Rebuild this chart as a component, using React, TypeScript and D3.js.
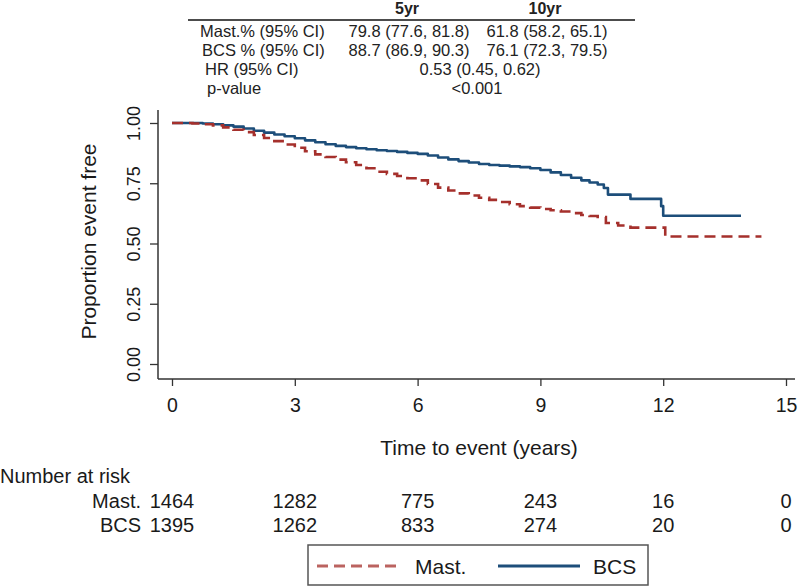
import React, { useEffect, useRef } from 'react';
import * as d3 from 'd3';

// Kaplan-Meier estimates (time in years, proportion event free)
const mastTimes = [0, 0.25, 0.5, 0.75, 1, 1.25, 1.5, 1.75, 2, 2.25, 2.5, 2.75, 3, 3.25, 3.5, 3.75, 4, 4.25, 4.5, 4.75, 5, 5.25, 5.5, 5.75, 6, 6.25, 6.5, 6.75, 7, 7.25, 7.5, 7.75, 8, 8.25, 8.5, 8.75, 9, 9.25, 9.5, 9.75, 10, 10.2, 10.4, 10.6, 10.9, 11.2, 11.95, 12.05, 14.4];
const mastSurv = [1, 1, 0.998, 0.995, 0.99, 0.982, 0.972, 0.962, 0.95, 0.938, 0.925, 0.911, 0.897, 0.883, 0.87, 0.859, 0.848, 0.837, 0.826, 0.812, 0.798, 0.789, 0.78, 0.771, 0.762, 0.747, 0.732, 0.72, 0.708, 0.699, 0.69, 0.681, 0.672, 0.663, 0.655, 0.649, 0.643, 0.638, 0.633, 0.626, 0.618, 0.614, 0.61, 0.585, 0.575, 0.566, 0.566, 0.529, 0.529];

const bcsTimes = [0, 0.25, 0.5, 0.75, 1, 1.25, 1.5, 1.75, 2, 2.25, 2.5, 2.75, 3, 3.25, 3.5, 3.75, 4, 4.25, 4.5, 4.75, 5, 5.25, 5.5, 5.75, 6, 6.25, 6.5, 6.75, 7, 7.25, 7.5, 7.75, 8, 8.25, 8.5, 8.75, 9, 9.25, 9.5, 9.75, 10, 10.2, 10.4, 10.55, 10.65, 11.2, 11.95, 12.0, 13.9];
const bcsSurv = [1, 1, 1, 0.998, 0.995, 0.99, 0.985, 0.977, 0.968, 0.96, 0.952, 0.945, 0.937, 0.928, 0.92, 0.912, 0.905, 0.9, 0.895, 0.891, 0.887, 0.884, 0.88, 0.876, 0.872, 0.865, 0.857, 0.849, 0.842, 0.836, 0.83, 0.826, 0.823, 0.82, 0.817, 0.812, 0.805, 0.795, 0.784, 0.773, 0.762, 0.753, 0.745, 0.73, 0.703, 0.685, 0.655, 0.615, 0.615];

// number at risk table
const riskTimes = [0, 3, 6, 9, 12, 15];
const mastAtRisk = [1464, 1282, 775, 243, 16, 0];
const bcsAtRisk = [1395, 1262, 833, 274, 20, 0];

// summary table on top
const summaryHeaders = ['5yr', '10yr'];
const summaryLabels = ['Mast.% (95% CI)', 'BCS % (95% CI)', 'HR (95% CI)', 'p-value'];
const fiveYr = ['79.8 (77.6, 81.8)', '88.7 (86.9, 90.3)'];
const tenYr = ['61.8 (58.2, 65.1)', '76.1 (72.3, 79.5)'];
const hrText = '0.53 (0.45, 0.62)';
const pText = '<0.001';

const xTicks = [0, 3, 6, 9, 12, 15];
const yTicks = [0, 0.25, 0.5, 0.75, 1];

const FONT = '"Liberation Sans", Arial, Helvetica, sans-serif';
const RED = '#a5302c';
const BLUE = '#1d4e7a';
const INK = '#1a1a1a';

const App = () => {
  const svgRef = useRef<SVGSVGElement | null>(null);

  useEffect(() => {
    document.body.style.margin = '0';
    if (!svgRef.current) return;
    const svg = d3.select(svgRef.current);
    svg.selectAll('*').remove();

    const x = d3.scaleLinear().domain([0, 15]).range([172, 786]);
    const y = d3.scaleLinear().domain([0, 1]).range([364, 123]);
    const axisY = 379;
    const axisX = 158;

    const g = svg.append('g').attr('font-family', FONT).attr('fill', INK);

    // ---- summary table
    const table = g.append('g').attr('fill', '#222');
    table.append('line')
      .attr('x1', 188).attr('x2', 635).attr('y1', 20).attr('y2', 20)
      .attr('stroke', '#111').attr('stroke-width', 1.5);
    const colCenters = [407, 545];
    summaryHeaders.forEach((h, i) => {
      table.append('text')
        .attr('x', colCenters[i]).attr('y', 14)
        .attr('text-anchor', 'middle')
        .attr('font-size', 16).attr('font-weight', 'bold')
        .text(h);
    });
    const rowBase = [37, 56, 75, 94];
    const rowLeft = [200, 202, 205, 207];
    summaryLabels.forEach((lab, i) => {
      table.append('text')
        .attr('x', rowLeft[i]).attr('y', rowBase[i])
        .attr('font-size', 16.5)
        .text(lab);
    });
    [fiveYr, tenYr].forEach((col, c) => {
      col.forEach((v, r) => {
        table.append('text')
          .attr('x', colCenters[c] + 2).attr('y', rowBase[r])
          .attr('text-anchor', 'middle')
          .attr('font-size', 16.5)
          .text(v);
      });
    });
    table.append('text')
      .attr('x', 480).attr('y', rowBase[2])
      .attr('text-anchor', 'middle').attr('font-size', 16.5)
      .text(hrText);
    table.append('text')
      .attr('x', 477).attr('y', rowBase[3])
      .attr('text-anchor', 'middle').attr('font-size', 16.5)
      .text(pText);

    // ---- axes
    g.append('line')
      .attr('x1', axisX).attr('x2', axisX).attr('y1', 110).attr('y2', axisY)
      .attr('stroke', '#333').attr('stroke-width', 1.5);
    g.append('line')
      .attr('x1', axisX).attr('x2', 795).attr('y1', axisY).attr('y2', axisY)
      .attr('stroke', '#333').attr('stroke-width', 1.5);

    const xAxis = g.append('g')
      .attr('transform', `translate(0, ${axisY})`)
      .call(d3.axisBottom(x).tickValues(xTicks).tickSize(7).tickPadding(12));
    xAxis.select('.domain').remove();
    xAxis.selectAll('line').attr('stroke', '#333').attr('stroke-width', 1.3);
    xAxis.selectAll('text')
      .attr('font-family', FONT).attr('font-size', 19.5).attr('fill', INK);

    const yAxis = g.append('g')
      .attr('transform', `translate(${axisX}, 0)`)
      .call(d3.axisLeft(y).tickValues(yTicks).tickSize(8).tickFormat(d3.format('.2f')));
    yAxis.select('.domain').remove();
    yAxis.selectAll('line').attr('stroke', '#333').attr('stroke-width', 1.3);
    yAxis.selectAll('text')
      .attr('x', null).attr('dy', null)
      .attr('transform', 'translate(-18.5, 0) rotate(-90)')
      .attr('text-anchor', 'middle')
      .attr('font-family', FONT).attr('font-size', 18).attr('fill', INK);

    // axis titles
    g.append('text')
      .attr('transform', 'translate(96, 241.5) rotate(-90)')
      .attr('text-anchor', 'middle').attr('font-size', 21)
      .text('Proportion event free');
    g.append('text')
      .attr('x', (x(0) + x(15)) / 2).attr('y', 455)
      .attr('text-anchor', 'middle').attr('font-size', 21)
      .text('Time to event (years)');

    // ---- KM curves
    const line = d3.line<[number, number]>()
      .x(d => x(d[0]))
      .y(d => y(d[1]))
      .curve(d3.curveStepAfter);

    const mastPts = mastTimes.map((t, i) => [t, mastSurv[i]] as [number, number]);
    const bcsPts = bcsTimes.map((t, i) => [t, bcsSurv[i]] as [number, number]);

    g.append('path')
      .datum(bcsPts)
      .attr('d', line)
      .attr('fill', 'none')
      .attr('stroke', BLUE)
      .attr('stroke-width', 2.6)
      .attr('stroke-linejoin', 'round');

    g.append('path')
      .datum(mastPts)
      .attr('d', line)
      .attr('fill', 'none')
      .attr('stroke', RED)
      .attr('stroke-width', 2.6)
      .attr('stroke-dasharray', '11,6');

    // ---- number at risk
    g.append('text')
      .attr('x', 0).attr('y', 483)
      .attr('font-size', 20)
      .text('Number at risk');
    const riskRows = [
      { label: 'Mast.', values: mastAtRisk, base: 508 },
      { label: 'BCS', values: bcsAtRisk, base: 532 },
    ];
    riskRows.forEach(row => {
      g.append('text')
        .attr('x', 141).attr('y', row.base)
        .attr('text-anchor', 'end').attr('font-size', 20)
        .text(row.label);
      row.values.forEach((v, i) => {
        g.append('text')
          .attr('x', x(riskTimes[i])).attr('y', row.base)
          .attr('text-anchor', 'middle').attr('font-size', 20)
          .text(v);
      });
    });

    // ---- legend
    const legend = g.append('g');
    legend.append('rect')
      .attr('x', 308).attr('y', 545).attr('width', 340).attr('height', 40)
      .attr('fill', '#fff').attr('stroke', '#555').attr('stroke-width', 1.5);
    legend.append('line')
      .attr('x1', 317).attr('x2', 398).attr('y1', 566).attr('y2', 566)
      .attr('stroke', RED).attr('stroke-width', 3).attr('stroke-dasharray', '11,6')
      .attr('opacity', 0.75);
    legend.append('text')
      .attr('x', 415).attr('y', 574).attr('font-size', 21).text('Mast.');
    legend.append('line')
      .attr('x1', 498).attr('x2', 580).attr('y1', 566).attr('y2', 566)
      .attr('stroke', BLUE).attr('stroke-width', 3);
    legend.append('text')
      .attr('x', 593).attr('y', 574).attr('font-size', 21).text('BCS');
  }, []);

  return (
    <svg
      ref={svgRef}
      width={800}
      height={586}
      style={{ display: 'block', background: '#fff' }}
    />
  );
};

export default App;
